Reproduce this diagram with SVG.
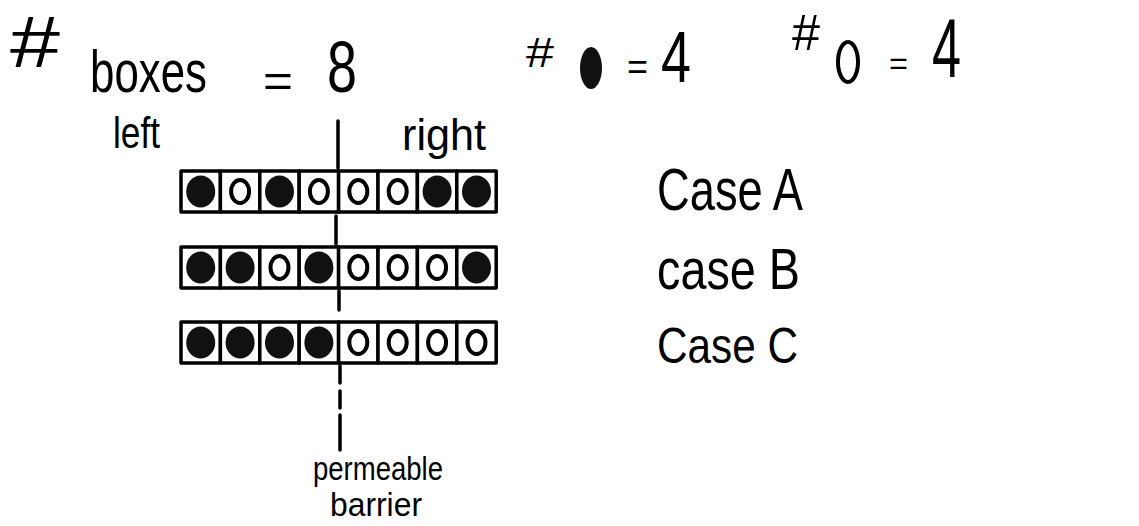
<svg xmlns="http://www.w3.org/2000/svg" width="1139" height="526" viewBox="0 0 1139 526">
<defs>
<style>
.t{font-family:"Liberation Sans","DejaVu Sans",sans-serif;fill:#000}
.box{fill:#fff;stroke:#000;stroke-width:3.5;stroke-linejoin:round}
.full{fill:#111}
.empty{fill:none;stroke:#000;stroke-width:4}
.bar{stroke:#000;stroke-width:3.5;stroke-linecap:round;fill:none}
</style>
<rect id="b" class="box" x="0" y="0" width="39.4" height="41"/>
<ellipse id="f" class="full" cx="19.7" cy="20.5" rx="14.5" ry="16"/>
<ellipse id="o" class="empty" cx="19.7" cy="20.5" rx="9" ry="11.5"/>
</defs>
<rect width="1139" height="526" fill="#fff"/>

<g id="header">
<text class="t" x="10" y="67" font-size="72" textLength="50" lengthAdjust="spacingAndGlyphs">#</text>
<text class="t" x="90" y="92" font-size="60" textLength="117" lengthAdjust="spacingAndGlyphs">boxes</text>
<text class="t" x="263" y="97" font-size="46" textLength="30" lengthAdjust="spacingAndGlyphs">=</text>
<text class="t" x="327" y="92" font-size="72" textLength="30" lengthAdjust="spacingAndGlyphs">8</text>

<text class="t" x="526" y="67" font-size="42" textLength="28" lengthAdjust="spacingAndGlyphs">#</text>
<ellipse class="full" cx="591" cy="68" rx="11" ry="21"/>
<text class="t" x="627" y="79" font-size="36" textLength="21" lengthAdjust="spacingAndGlyphs">=</text>
<text class="t" x="661" y="82" font-size="72" textLength="30" lengthAdjust="spacingAndGlyphs">4</text>

<text class="t" x="792" y="50" font-size="50" textLength="28" lengthAdjust="spacingAndGlyphs">#</text>
<ellipse class="empty" cx="848" cy="62" rx="10" ry="20" stroke-width="3"/>
<text class="t" x="889" y="74" font-size="32" textLength="19" lengthAdjust="spacingAndGlyphs">=</text>
<text class="t" x="932" y="77" font-size="84" textLength="29" lengthAdjust="spacingAndGlyphs">4</text>
</g>

<g id="side-labels">
<text class="t" x="113" y="148" font-size="44" textLength="47" lengthAdjust="spacingAndGlyphs">left</text>
<text class="t" x="402" y="150" font-size="44" textLength="84" lengthAdjust="spacingAndGlyphs">right</text>
</g>

<g id="row-a" transform="translate(181,171)">
<use href="#b" x="0"/><use href="#f" x="0"/>
<use href="#b" x="39.4"/><use href="#o" x="39.4"/>
<use href="#b" x="78.8"/><use href="#f" x="78.8"/>
<use href="#b" x="118.2"/><use href="#o" x="118.2"/>
<use href="#b" x="157.6"/><use href="#o" x="157.6"/>
<use href="#b" x="197"/><use href="#o" x="197"/>
<use href="#b" x="236.4"/><use href="#f" x="236.4"/>
<use href="#b" x="275.8"/><use href="#f" x="275.8"/>
</g>

<g id="row-b" transform="translate(181,247)">
<use href="#b" x="0"/><use href="#f" x="0"/>
<use href="#b" x="39.4"/><use href="#f" x="39.4"/>
<use href="#b" x="78.8"/><use href="#o" x="78.8"/>
<use href="#b" x="118.2"/><use href="#f" x="118.2"/>
<use href="#b" x="157.6"/><use href="#o" x="157.6"/>
<use href="#b" x="197"/><use href="#o" x="197"/>
<use href="#b" x="236.4"/><use href="#o" x="236.4"/>
<use href="#b" x="275.8"/><use href="#f" x="275.8"/>
</g>

<g id="row-c" transform="translate(181,322)">
<use href="#b" x="0"/><use href="#f" x="0"/>
<use href="#b" x="39.4"/><use href="#f" x="39.4"/>
<use href="#b" x="78.8"/><use href="#f" x="78.8"/>
<use href="#b" x="118.2"/><use href="#f" x="118.2"/>
<use href="#b" x="157.6"/><use href="#o" x="157.6"/>
<use href="#b" x="197"/><use href="#o" x="197"/>
<use href="#b" x="236.4"/><use href="#o" x="236.4"/>
<use href="#b" x="275.8"/><use href="#o" x="275.8"/>
</g>

<g id="case-labels">
<text class="t" x="657" y="210" font-size="60" textLength="146" lengthAdjust="spacingAndGlyphs">Case A</text>
<text class="t" x="657" y="289" font-size="58" textLength="143" lengthAdjust="spacingAndGlyphs">case B</text>
<text class="t" x="657" y="363" font-size="50" textLength="141" lengthAdjust="spacingAndGlyphs">Case C</text>
</g>

<g id="barrier-label">
<text class="t" x="313" y="480" font-size="34" textLength="130" lengthAdjust="spacingAndGlyphs">permeable</text>
<text class="t" x="330" y="516" font-size="34" textLength="92" lengthAdjust="spacingAndGlyphs">barrier</text>
</g>

<g id="connectors">
<path class="bar" d="M338 121 V168 M336 216 V244 M339 291 V310 M340 366 V383 M340 391 V408 M340 415 V450"/>
</g>
</svg>
